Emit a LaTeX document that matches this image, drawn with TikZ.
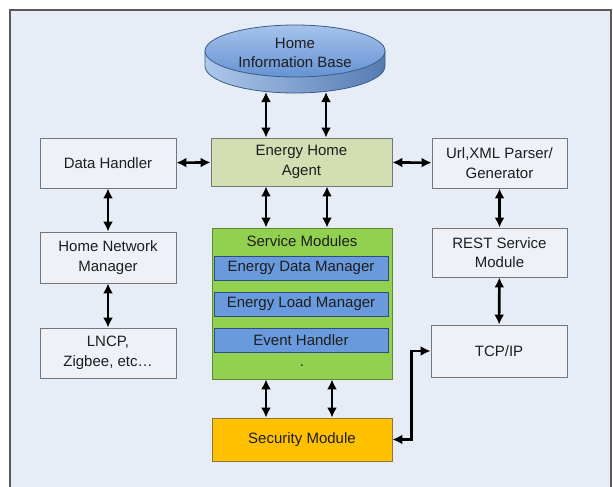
\documentclass[tikz,border=0pt]{standalone}
\usepackage{fontspec}
\setmainfont{Liberation Sans}
\usetikzlibrary{arrows.meta}

\definecolor{bgblue}{HTML}{E7EDF7}
\definecolor{framegray}{HTML}{5A5A5A}
\definecolor{boxfill}{HTML}{EEF1F8}
\definecolor{boxline}{HTML}{767676}
\definecolor{agentgreen}{HTML}{D3DFB3}
\definecolor{modgreen}{HTML}{92D050}
\definecolor{modline}{HTML}{5E8A35}
\definecolor{mgrblue}{HTML}{6A9ADE}
\definecolor{mgrline}{HTML}{2E4C7C}
\definecolor{secorange}{HTML}{FFC000}
\definecolor{secline}{HTML}{8E7442}
\definecolor{diskline}{HTML}{3C5C86}
\definecolor{txt}{HTML}{1E1E1E}

\begin{document}
\begin{tikzpicture}[x=1pt, y=-1pt,
    box/.style={draw=boxline, fill=boxfill, line width=0.9pt, align=center,
      text=txt, font=\fontsize{15}{19.5}\selectfont,
      minimum width=136pt, minimum height=50pt, inner sep=0pt},
    agentbox/.style={box, fill=agentgreen, minimum width=181pt, minimum height=48pt},
    modbox/.style={box, draw=modline, fill=modgreen, minimum width=180pt, minimum height=151pt},
    mgrbox/.style={box, draw=mgrline, fill=mgrblue, minimum width=174pt, minimum height=24pt},
    secbox/.style={box, draw=secline, fill=secorange, minimum width=180pt, minimum height=43pt},
    dbl/.style={{Latex[length=10pt,width=10pt]}-{Latex[length=10pt,width=10pt]}, line width=2.6pt, black}]
  \useasboundingbox (0,0) rectangle (613,487);

  % frame
  \fill[bgblue] (10,10) rectangle (611,487);
  \draw[framegray, line width=2pt] (10,487) -- (10,10) -- (611,10) -- (611,487);

  % information base disk
  \shade[left color=mgrblue!55!white, right color=mgrblue!80!black, draw=diskline, line width=0.8pt]
    (205,51) -- (205,66) arc[start angle=180, end angle=0, x radius=90, y radius=27] -- (385,51) -- cycle;
  \shade[top color=mgrblue!60!white, bottom color=mgrblue!95!black, draw=diskline, line width=0.8pt]
    (295,51) ellipse [x radius=90, y radius=26];
  \node[text=txt, font=\fontsize{15}{18.5}\selectfont, align=center] (hib) at (295,53) {Home\\Information Base};
  \coordinate (hibL) at (266,92);
  \coordinate (hibR) at (326,92);

  % left column
  \node[box] (dh) at (108,163) {Data Handler};
  \node[box, minimum height=51pt] (hnm) at (108,257.5) {Home Network\\Manager};
  \node[box] (lncp) at (108,353) {LNCP,\\Zigbee, etc\dots};

  % middle column
  \node[agentbox] (agent) at (301.5,162) {Energy Home\\Agent};
  \node[modbox] (sm) at (302,303.5) {};
  \node[text=txt, font=\fontsize{15}{19.5}\selectfont] (smtitle) at (302,241) {Service Modules};
  \node[mgrbox] (edm) at (301,268) {Energy Data Manager};
  \node[mgrbox] (elm) at (301,304) {Energy Load Manager};
  \node[mgrbox] (eh) at (301,340) {Event Handler};
  \node[text=txt, font=\fontsize{15}{19.5}\selectfont] (dot) at (302,366) {.};
  \node[secbox] (sec) at (302,439.5) {Security Module};

  % right column
  \node[box, minimum width=135pt] (url) at (499.5,163) {Url,XML Parser/\\Generator};
  \node[box, minimum width=135pt, minimum height=49pt] (rest) at (499.5,252.5) {REST Service\\Module};
  \node[box, minimum height=52pt] (tcp) at (499,351) {TCP/IP};

  % connectors
  \draw[dbl] (hibL) -- (hibL |- agent.north);
  \draw[dbl] (hibR) -- (hibR |- agent.north);
  \draw[dbl] (dh) -- (agent);
  \draw[dbl] (agent) -- (url);
  \draw[dbl] ([xshift=-35.5pt]agent.south) -- ([xshift=-35.5pt]agent.south |- sm.north);
  \draw[dbl] ([xshift=25.5pt]agent.south) -- ([xshift=25.5pt]agent.south |- sm.north);
  \draw[dbl] ([xshift=-36pt]sm.south) -- ([xshift=-36pt]sm.south |- sec.north);
  \draw[dbl] ([xshift=30pt]sm.south) -- ([xshift=30pt]sm.south |- sec.north);
  \draw[dbl] (dh) -- (hnm);
  \draw[dbl] (hnm) -- (lncp);
  \draw[dbl] (url) -- (rest);
  \draw[dbl] (rest) -- (tcp);
  \draw[dbl] (sec.east) -- ++(19,0) |- (tcp.west);
\end{tikzpicture}
\end{document}
